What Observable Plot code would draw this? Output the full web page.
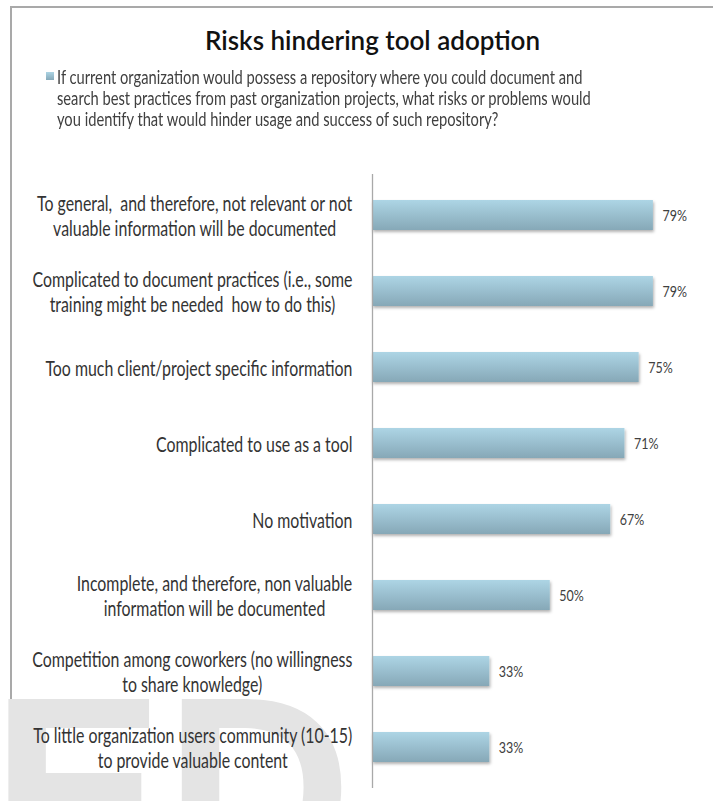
<!DOCTYPE html>
<html>
<head>
<meta charset="utf-8">
<script src="https://cdn.jsdelivr.net/npm/d3@7"></script>
<script src="https://cdn.jsdelivr.net/npm/@observablehq/plot@0.6"></script>
<style>
  html, body { margin: 0; padding: 0; background: #fff; }
  body { width: 713px; height: 801px; overflow: hidden; position: relative; font-family: Lato, "Open Sans", sans-serif; }
  #frame { position: absolute; left: 10px; top: 6px; right: -4px; bottom: -4px; border-top: 2px solid #a9a9a9; border-left: 2px solid #a9a9a9; z-index: 0; }
  #wm { position: absolute; left: -9px; top: 658px; font: bold 260px/260px "Liberation Sans", Arial, sans-serif; color: #e4e4e4; z-index: 0; white-space: nowrap; }
  #header { position: relative; height: 140px; z-index: 1; }
  #title { position: absolute; left: 0; width: 745px; top: 27px; text-align: center; font-size: 26px; line-height: 26px; color: #111; font-weight: 600; }
  #legend { position: absolute; left: 46px; top: 66px; }
  #legend .sw { position: absolute; left: 0; top: 6px; width: 8px; height: 8px; background: linear-gradient(#acd4e4, #86a9b9); }
  #legend .tx { position: absolute; left: 11px; top: 0; white-space: nowrap; font-size: 14.7px; line-height: 17.2px; color: #404040; transform: scaleY(1.25); transform-origin: 0 0; }
  #chart { position: relative; z-index: 1; }
</style>
</head>
<body>
<div id="frame"></div>
<div id="wm">ED</div>
<div id="header">
  <div id="title"></div>
  <div id="legend"><div class="sw"></div><div class="tx"></div></div>
</div>
<div id="chart"></div>
<script>
const title = "Risks hindering tool adoption";
const legendLines = [
  "If current organization would possess a repository where you could document and",
  "search best practices from past organization projects, what risks or problems would",
  "you identify that would hinder usage and success of such repository?"
];
const categories = [
  "To general,  and therefore, not relevant or not\nvaluable information will be documented",
  "Complicated to document practices (i.e., some\ntraining might be needed  how to do this)",
  "Too much client/project specific information",
  "Complicated to use as a tool",
  "No motivation",
  "Incomplete, and therefore, non valuable\ninformation will be documented",
  "Competition among coworkers (no willingness\nto share knowledge)",
  "To little organization users community (10-15)\nto provide valuable content"
];
const values = [79, 79, 75, 71, 67, 50, 33, 33];

const data = categories.map((c, i) => ({label: c, value: values[i] / 100}));

document.getElementById("title").textContent = title;
const tx = document.querySelector("#legend .tx");
legendLines.forEach((l, i) => {
  if (i) tx.appendChild(document.createElement("br"));
  tx.appendChild(document.createTextNode(l));
});

const labelFont = 15.9;
const labelFamily = "Lato";
const ctx = document.createElement("canvas").getContext("2d");
ctx.font = `${labelFont}px ${labelFamily}`;
const blockWidth = (s) => Math.max(...s.split("\n").map((l) => ctx.measureText(l).width));

const labelMarks = data.map((d) =>
  Plot.text([d], {
    y: "label",
    text: "label",
    frameAnchor: "left",
    textAnchor: "middle",
    lineAnchor: "middle",
    lineHeight: 1.21,
    dx: -20 - blockWidth(d.label) / 2,
    fontSize: labelFont,
    fontFamily: labelFamily,
    fill: "#333"
  })
);

const svg = Plot.plot({
  width: 713,
  height: 661,
  marginLeft: 372,
  marginRight: 21,
  marginTop: 34,
  marginBottom: 13,
  style: {background: "transparent", overflow: "visible"},
  x: {domain: [0, 0.9], axis: null},
  y: {domain: categories, axis: null, paddingInner: 0.6, paddingOuter: 0.3},
  marks: [
    Plot.barX(data, {x: "value", y: "label", fill: "url(#barGrad)"}),
    Plot.ruleX([0], {stroke: "#a9a9a9", strokeWidth: 1.3}),
    Plot.text(data, {
      x: "value",
      y: "label",
      text: (d) => `${Math.round(d.value * 100)}%`,
      dx: 9,
      textAnchor: "start",
      fontSize: 12.5,
      fontFamily: labelFamily,
      fill: "#404040"
    }),
    ...labelMarks
  ]
});

const s = d3.select(svg);
const defs = s.insert("defs", ":first-child");
const g = defs.append("linearGradient").attr("id", "barGrad").attr("x1", 0).attr("y1", 0).attr("x2", 0).attr("y2", 1);
g.append("stop").attr("offset", "0%").attr("stop-color", "#add5e5");
g.append("stop").attr("offset", "100%").attr("stop-color", "#86a8b7");
const f = defs.append("filter").attr("id", "shadow").attr("x", "-5%").attr("y", "-20%").attr("width", "115%").attr("height", "160%");
f.append("feDropShadow").attr("dx", 1).attr("dy", 2).attr("stdDeviation", 1.5).attr("flood-color", "#000").attr("flood-opacity", 0.3);
s.selectAll('g[aria-label="bar"]').attr("filter", "url(#shadow)");

// stretch text glyphs vertically about their anchor point (the reference text is tall and narrow)
const stretch = (nodes, k) => nodes.forEach((node) => {
  const t = node.getAttribute("transform");
  if (t) node.setAttribute("transform", `${t} scale(1,${k})`);
});
s.selectAll('g[aria-label="text"]').nodes().forEach((grp) => {
  stretch(Array.from(grp.querySelectorAll(":scope > text")), 1.3);
});

document.getElementById("chart").appendChild(svg);
</script>
</body>
</html>
